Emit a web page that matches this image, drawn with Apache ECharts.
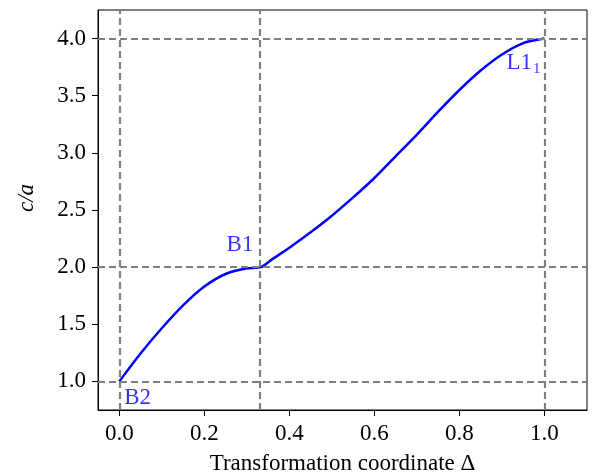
<!DOCTYPE html>
<html>
<head>
<meta charset="utf-8">
<script src="https://cdn.jsdelivr.net/npm/echarts@6/dist/echarts.min.js"></script>
<style>
  html, body { margin: 0; padding: 0; background: #fff; }
  #chart { width: 595px; height: 474px; }
</style>
</head>
<body>
<div id="chart"></div>
<script>
// Transformation path: c/a ratio versus transformation coordinate Δ
const delta = [0, 0.05, 0.10, 0.15, 0.20, 0.25, 0.30, 1 / 3, 0.36, 0.40, 0.45, 0.50, 0.55, 0.60, 0.65, 0.70, 0.75, 0.80, 0.85, 0.90, 0.95, 1.0];
const ratio = [1.0, 1.245, 1.465, 1.665, 1.83, 1.94, 1.99, 2.0, 2.07, 2.17, 2.305, 2.45, 2.61, 2.78, 2.97, 3.16, 3.36, 3.55, 3.72, 3.86, 3.96, 4.0];

// Reference guide lines
const guideX = [0, 1 / 3, 1];
const guideY = [1, 2, 4];

// Labelled special structures
const pointNames = ['B2', 'B1', 'L1'];
const pointX = [0, 1 / 3, 1];
const pointY = [1, 2, 4];

const xTicks = [0, 0.2, 0.4, 0.6, 0.8, 1.0];
const yTicks = [1.0, 1.5, 2.0, 2.5, 3.0, 3.5, 4.0];

const FONT = 'Liberation Serif';
const FS = 23;
const BLUE = '#0000ff';

const chart = echarts.init(document.getElementById('chart'), null, { renderer: 'canvas' });

const labelPlacement = {
  B2: { position: [5, 17], align: 'left', verticalAlign: 'middle' },
  B1: { position: [-21, -22], align: 'center', verticalAlign: 'middle' },
  L1: { position: [-4, 24], align: 'right', verticalAlign: 'middle' }
};

const pointData = pointNames.map((n, i) => ({
  name: n,
  value: [pointX[i], pointY[i]],
  label: Object.assign({
    show: true,
    formatter: n === 'L1' ? '{a|L1}{s|1}' : '{a|' + n + '}',
    rich: {
      a: { fontFamily: FONT, fontSize: FS, color: BLUE },
      s: { fontFamily: FONT, fontSize: 15, color: BLUE, padding: [12, 0, 0, 1] }
    }
  }, labelPlacement[n])
}));

chart.setOption({
  animation: false,
  backgroundColor: '#fff',
  grid: {
    left: 98, right: 8, top: 10, bottom: 64,
    outerBoundsMode: 'none',
    containLabel: false,
    show: true, borderColor: '#000', borderWidth: 1, backgroundColor: 'transparent'
  },
  xAxis: {
    type: 'value',
    min: -0.05, max: 1.1,
    name: 'Transformation coordinate Δ',
    nameLocation: 'middle',
    nameGap: 42,
    nameTextStyle: { fontFamily: FONT, fontSize: FS, color: '#000' },
    axisLine: { show: true, onZero: false, lineStyle: { color: '#000', width: 1 } },
    axisTick: { show: true, inside: false, length: 6, customValues: xTicks, lineStyle: { color: '#000' } },
    axisLabel: {
      customValues: xTicks, margin: 12,
      fontFamily: FONT, fontSize: FS, color: '#000',
      formatter: v => v.toFixed(1)
    },
    splitLine: { show: false }
  },
  yAxis: {
    type: 'value',
    min: 0.75, max: 4.25,
    name: 'c/a',
    nameLocation: 'middle',
    nameGap: 60,
    nameRotate: 90,
    nameTextStyle: { fontFamily: FONT, fontSize: FS, fontStyle: 'italic', color: '#000', padding: [0, 0, 0, 24] },
    axisLine: { show: true, onZero: false, lineStyle: { color: '#000', width: 1 } },
    axisTick: { show: true, inside: false, length: 6, customValues: yTicks, lineStyle: { color: '#000' } },
    axisLabel: {
      customValues: yTicks, margin: 12,
      fontFamily: FONT, fontSize: FS, color: '#000',
      formatter: v => v.toFixed(1)
    },
    splitLine: { show: false }
  },
  series: [
    {
      type: 'line',
      data: delta.map((d, i) => [d, ratio[i]]),
      showSymbol: false,
      smooth: 0.25,
      lineStyle: { color: BLUE, width: 2.5 },
      z: 3,
      markLine: {
        silent: true,
        symbol: 'none',
        label: { show: false },
        lineStyle: { color: '#808080', width: 2.2, type: [7, 4] },
        data: guideX.map(v => ({ xAxis: v })).concat(guideY.map(v => ({ yAxis: v })))
      }
    },
    {
      type: 'scatter',
      symbolSize: 0,
      data: pointData,
      z: 4
    }
  ]
});
</script>
</body>
</html>
